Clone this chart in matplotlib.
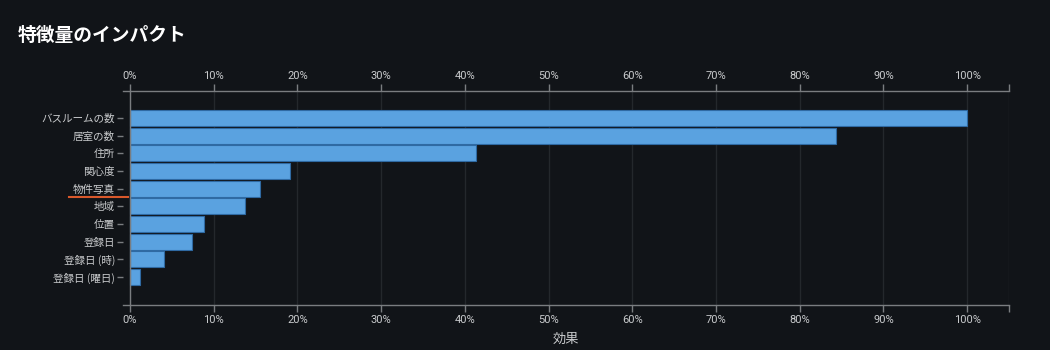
import matplotlib
matplotlib.use('Agg')
import matplotlib.pyplot as plt
import matplotlib.transforms as mtransforms
from matplotlib.ticker import FuncFormatter

plt.rcParams['font.family'] = ['Noto Sans CJK JP', 'DejaVu Sans']

# feature impact (% of max)
features = ['バスルームの数', '居室の数', '住所', '関心度', '物件写真',
            '地域', '位置', '登録日', '登録日 (時)', '登録日 (曜日)']
impact = [100, 84.3, 41.3, 19.1, 15.5, 13.7, 8.8, 7.4, 4.1, 1.2]
ticks = [0, 10, 20, 30, 40, 50, 60, 70, 80, 90, 100]
highlight = '物件写真'

bg = '#111418'
txt = '#c9cbcd'
axc = '#7a7d80'

fig = plt.figure(figsize=(10.5, 3.5), dpi=100, facecolor=bg)
ax = fig.add_axes([0.1174, 0.1286, 0.8435, 0.6114], facecolor=bg)

y = list(range(len(features)))
ax.barh(y, impact, height=0.9, color='#5aa2e0', edgecolor='#2f6aa3', linewidth=0.8, zorder=3)

ax.set_xlim(-0.8, 105)
ax.set_ylim(10.58, -1.53)
ax.set_xticks(ticks + [105])
ax.xaxis.set_major_formatter(FuncFormatter(lambda v, p: '' if v > 100 else f'{v:.0f}%'))
ax.set_yticks(y)
ax.set_yticklabels(features)

ax.tick_params(axis='x', top=True, labeltop=True, bottom=True, labelbottom=True,
               colors=axc, labelcolor=txt, labelsize=8, length=5, width=1, pad=2)
ax.tick_params(axis='y', colors=axc, labelcolor=txt, labelsize=7.6, length=4, width=1, pad=2)
for lab in ax.get_xticklabels(which='both'):
    lab.set_fontfamily('Roboto')
for lab in ax.xaxis.get_ticklabels() + [t.label2 for t in ax.xaxis.get_major_ticks()]:
    lab.set_fontfamily('Roboto')

ax.grid(axis='x', color='#24282c', linewidth=1, zorder=0)
ax.axvline(0, color=axc, linewidth=1, zorder=4)

for s in ['left', 'right']:
    ax.spines[s].set_visible(False)
for s in ['top', 'bottom']:
    ax.spines[s].set_color(axc)
    ax.spines[s].set_linewidth(1)

ax.set_xlabel('効果', color=txt, fontsize=9.5, labelpad=6)

# orange underline under highlighted label
trans = mtransforms.blended_transform_factory(fig.transFigure, ax.transData)
hy = features.index(highlight) + 0.47
ax.plot([0.0657, 0.1219], [hy, hy], color='#d9582b', linewidth=1.5, transform=trans, clip_on=False)

fig.text(0.017, 0.9, '特徴量のインパクト', color='#ffffff', fontsize=13.5, fontweight='bold', va='center')

fig.savefig('out.png', dpi=100, facecolor=bg)
